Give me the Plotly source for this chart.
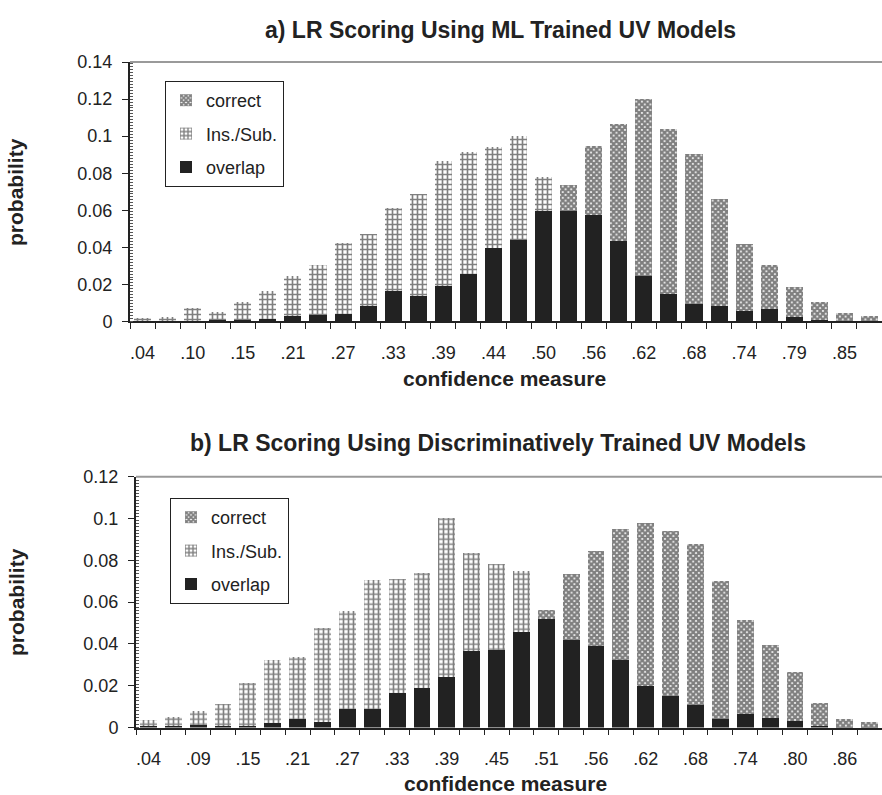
import plotly.graph_objects as go

# Histogram bins (30 bins of the confidence measure), labelled every other bin
bins = list(range(30))
labels_a = ['.04', '.10', '.15', '.21', '.27', '.33', '.39', '.44', '.50', '.56',
            '.62', '.68', '.74', '.79', '.85']
labels_b = ['.04', '.09', '.15', '.21', '.27', '.33', '.39', '.45', '.51', '.56',
            '.62', '.68', '.74', '.80', '.86']

# a) ML trained UV models: probability per bin
ins_a = [0.0020, 0.0025, 0.0074, 0.0052, 0.0106, 0.0167, 0.0244, 0.0303, 0.0424, 0.0472,
         0.0610, 0.0689, 0.0867, 0.0912, 0.0944, 0.1003, 0.0777, 0.0594, 0.0572, 0.0436,
         0.0248, 0.0151, 0.0093, 0.0083, 0.0059, 0.0065, 0.0023, 0.0008, 0.0003, 0.0002]
correct_a = [0.0003, 0.0003, 0.0005, 0.0006, 0.0008, 0.0012, 0.0029, 0.0034, 0.0041, 0.0081,
             0.0163, 0.0136, 0.0190, 0.0258, 0.0397, 0.0442, 0.0598, 0.0739, 0.0946, 0.1066,
             0.1199, 0.1036, 0.0903, 0.0662, 0.0420, 0.0303, 0.0187, 0.0106, 0.0047, 0.0029]

# b) discriminatively trained UV models: probability per bin
ins_b = [0.0036, 0.0050, 0.0079, 0.0111, 0.0215, 0.0323, 0.0335, 0.0474, 0.0559, 0.0705,
         0.0711, 0.0737, 0.1002, 0.0836, 0.0782, 0.0748, 0.0519, 0.0420, 0.0391, 0.0323,
         0.0199, 0.0151, 0.0108, 0.0039, 0.0065, 0.0047, 0.0030, 0.0005, 0.0002, 0.0001]
correct_b = [0.0005, 0.0008, 0.0012, 0.0005, 0.0006, 0.0023, 0.0039, 0.0028, 0.0087, 0.0090,
             0.0164, 0.0188, 0.0242, 0.0367, 0.0372, 0.0457, 0.0563, 0.0735, 0.0843, 0.0951,
             0.0980, 0.0939, 0.0879, 0.0702, 0.0516, 0.0396, 0.0265, 0.0119, 0.0039, 0.0025]

y_ticks_a = [0, 0.02, 0.04, 0.06, 0.08, 0.10, 0.12, 0.14]
y_text_a = ['0', '0.02', '0.04', '0.06', '0.08', '0.1', '0.12', '0.14']
y_ticks_b = [0, 0.02, 0.04, 0.06, 0.08, 0.10, 0.12]
y_text_b = ['0', '0.02', '0.04', '0.06', '0.08', '0.1', '0.12']

INK = '#222222'
FONT = 'Liberation Sans, Arial, Helvetica, sans-serif'
BAR_W = 0.68

fig = go.Figure()


def add_panel(correct, ins, xa, ya, legend):
    overlap = [min(c, i) for c, i in zip(correct, ins)]
    ins_top = [max(i - c, 0) for c, i in zip(correct, ins)]
    cor_top = [max(c - i, 0) for c, i in zip(correct, ins)]
    fig.add_trace(go.Bar(
        x=bins, y=overlap, name='overlap', width=BAR_W, xaxis=xa, yaxis=ya,
        legend=legend, legendrank=3, legendgroup='o' + legend,
        marker=dict(color=INK, line=dict(width=0))))
    fig.add_trace(go.Bar(
        x=bins, y=ins_top, name='Ins./Sub.', width=BAR_W, xaxis=xa, yaxis=ya,
        legend=legend, legendrank=2, legendgroup='i' + legend,
        marker=dict(color='white', line=dict(width=0),
                    pattern=dict(shape='+', fgcolor='#000000', bgcolor='white',
                                 size=5, solidity=0.55))))
    fig.add_trace(go.Bar(
        x=bins, y=cor_top, name='correct', width=BAR_W, xaxis=xa, yaxis=ya,
        legend=legend, legendrank=1, legendgroup='c' + legend,
        marker=dict(color='white', line=dict(width=0),
                    pattern=dict(shape='x', fgcolor='#000000', bgcolor='white',
                                 size=4, solidity=0.8))))


add_panel(correct_a, ins_a, 'x', 'y', 'legend')
add_panel(correct_b, ins_b, 'x2', 'y2', 'legend2')


def x_axis(domain, anchor, labels):
    return dict(
        domain=domain, anchor=anchor, range=[-0.5, 29.5], automargin=False,
        tickmode='array', tickvals=bins[::2], ticktext=labels,
        ticks='', ticklabelstandoff=14,
        minor=dict(tickmode='array', tickvals=[b - 0.5 for b in bins] + [29.5],
                   ticks='outside', ticklen=6, tickwidth=1, tickcolor=INK),
        showline=True, linecolor=INK, linewidth=1.5,
        showgrid=False, zeroline=False,
        tickfont=dict(family=FONT, size=18, color=INK))


def y_axis(domain, anchor, rng, tv, tt):
    return dict(
        domain=domain, anchor=anchor, range=rng, automargin=False,
        tickmode='array', tickvals=tv, ticktext=tt,
        ticks='outside', ticklen=6, tickwidth=1, tickcolor=INK, ticklabelstandoff=6,
        minor=dict(dtick=0.0016, ticks='inside', ticklen=3, tickwidth=1,
                   tickcolor='#555555'),
        showline=True, linecolor=INK, linewidth=2,
        showgrid=False, zeroline=False,
        tickfont=dict(family=FONT, size=18, color=INK))


legend_style = dict(
    bgcolor='white', bordercolor=INK, borderwidth=1,
    font=dict(family=FONT, size=18, color=INK),
    traceorder='grouped', tracegroupgap=7, itemwidth=30,
    xanchor='left', yanchor='top')

fig.update_layout(
    width=882, height=795,
    margin=dict(l=0, r=0, t=0, b=0, pad=0, autoexpand=False),
    paper_bgcolor='white', plot_bgcolor='white',
    barmode='stack',
    xaxis=x_axis([130 / 882, 1], 'y', labels_a),
    yaxis=y_axis([0.5956, 0.922], 'x', [0, 0.14], y_ticks_a, y_text_a),
    xaxis2=x_axis([136 / 882, 1], 'y2', labels_b),
    yaxis2=y_axis([0.0849, 0.4004], 'x2', [0, 0.12], y_ticks_b, y_text_b),
    legend=dict(x=165 / 882, y=1 - 81 / 795, **legend_style),
    legend2=dict(x=170 / 882, y=1 - 498 / 795, **legend_style),
)

# Grey rule along the top edge of each plot frame
for xr, yr in (('x domain', 'y domain'), ('x2 domain', 'y2 domain')):
    fig.add_shape(type='line', xref=xr, yref=yr, x0=0, x1=1, y0=1, y1=1,
                  line=dict(color='#9a9a9a', width=2))

title_font = dict(family=FONT, size=23, color=INK)
label_font = dict(family=FONT, size=21, color=INK)
texts = [
    ('<b>a) LR Scoring Using ML Trained UV Models</b>', 501 / 882, 1 - 30 / 795, 0, title_font),
    ('<b>b) LR Scoring Using Discriminatively Trained UV Models</b>', 498 / 882, 1 - 443 / 795, 0, title_font),
    ('<b>confidence measure</b>', 504 / 882, 1 - 378 / 795, 0, label_font),
    ('<b>confidence measure</b>', 505 / 882, 1 - 783 / 795, 0, label_font),
    ('<b>probability</b>', 16 / 882, 1 - 192 / 795, -90, label_font),
    ('<b>probability</b>', 16 / 882, 1 - 602 / 795, -90, label_font),
]
for txt, x, y, ang, f in texts:
    fig.add_annotation(text=txt, x=x, y=y, xref='paper', yref='paper',
                       xanchor='center', yanchor='middle', textangle=ang,
                       showarrow=False, font=f)

fig.write_html('out.html')
